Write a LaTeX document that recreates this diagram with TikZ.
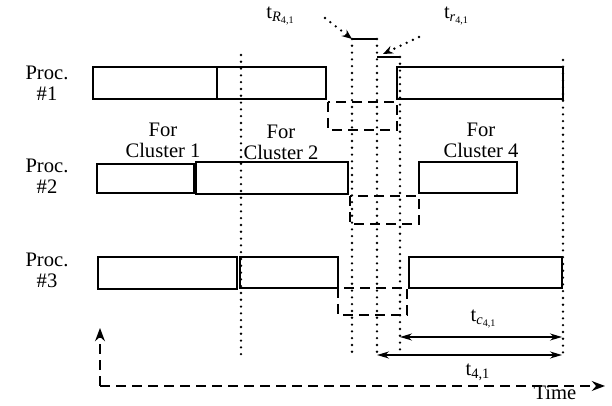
\documentclass[tikz,border=0pt]{standalone}
\usepackage{fontspec}
\setmainfont{Liberation Serif}
\usetikzlibrary{arrows.meta}

\begin{document}
\begin{tikzpicture}[
    x=0.5pt, y=-0.5pt,
    >=Stealth,
    font=\fontsize{10.3}{10.5}\selectfont,
    job/.style={draw, line width=0.9pt},
    comm/.style={draw, line width=0.8pt, dash pattern=on 5pt off 3pt},
    guide/.style={line width=1.3pt, line cap=round, dash pattern=on 0pt off 3.4pt},
    pointer/.style={guide, -{Stealth[length=5pt,width=4pt]}},
    span/.style={line width=0.75pt, {Stealth[length=6pt,width=3.5pt]}-{Stealth[length=6pt,width=3.5pt]}},
    lbl/.style={align=center, inner sep=0pt},
  ]
    \useasboundingbox (0,0) rectangle (612,406);

    % processor labels
    \node[lbl] (p1) at (47,83) {Proc.\\\#1};
    \node[lbl] (p2) at (47,176) {Proc.\\\#2};
    \node[lbl] (p3) at (47,270) {Proc.\\\#3};

    % cluster labels
    \node[lbl] (c1) at (163,140) {For\\Cluster 1};
    \node[lbl] (c2) at (281,142) {For\\Cluster 2};
    \node[lbl] (c4) at (481,140) {For\\Cluster 4};

    % computation blocks
    \draw[job] (93,67) rectangle (217,99);
    \draw[job] (217,67) rectangle (326,99);
    \draw[job] (397,67) rectangle (563,99);
    \draw[job] (97,164) rectangle (194,193);
    \draw[job] (196,162) rectangle (348,194);
    \draw[job] (419,162) rectangle (517,193);
    \draw[job] (98,257) rectangle (237,289);
    \draw[job] (240,257) rectangle (338,288);
    \draw[job] (409,257) rectangle (562,288);

    % communication blocks
    \draw[comm] (328,102) rectangle (397,130);
    \draw[comm] (350,196) rectangle (419,224);
    \draw[comm] (338,288) rectangle (407,315);

    % markers
    \coordinate (a) at (352,39);
    \coordinate (b) at (377,39);
    \coordinate (c) at (377,57);
    \coordinate (d) at (400,57);
    \draw[line width=0.9pt] (a) -- (b);
    \draw[line width=0.9pt] (c) -- (d);

    % guide lines
    \draw[guide] (241,55) -- (241,357);
    \draw[guide] (a) -- (352,357);
    \draw[guide] (b) -- (377,357);
    \draw[guide] (d) -- (400,350);
    \draw[guide] (563,60) -- (563,357);

    % top labels with pointers
    \node[lbl] (tR) at (281,16) {t\textsubscript{\textit{R}\textsubscript{4,1}}};
    \node[lbl] (tr) at (457,16) {t\textsubscript{\textit{r}\textsubscript{4,1}}};
    \coordinate (tRs) at (325,18);
    \coordinate (trs) at (419,37);
    \draw[pointer] (tRs) -- (a);
    \draw[pointer] (trs) -- (383,54);

    % spans
    \coordinate (cl) at (400,337);
    \coordinate (cr) at (562,337);
    \coordinate (tl) at (377,355);
    \coordinate (tr4) at (562,355);
    \draw[span] (cl) -- (cr);
    \draw[span] (tl) -- (tr4);
    \node[lbl] (tc) at (484,319) {t\textsubscript{\textit{c}\textsubscript{4,1}}};
    \node[lbl] (t41) at (478,372) {t\textsubscript{4,1}};

    % time axis
    \coordinate (o) at (100,386);
    \draw[comm, ->] (o) -- (100,328);
    \draw[comm, ->] (o) -- (605,386);
    \node[lbl] (time) at (555,393) {Time};
  \end{tikzpicture}
\end{document}
